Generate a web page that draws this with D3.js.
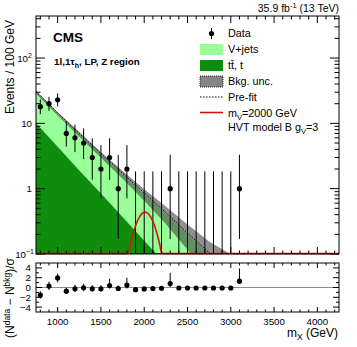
<!DOCTYPE html>
<html lang="en">
<head>
<meta charset="utf-8">
<title>CMS 1l,1tau_h LP Z region</title>
<script src="https://d3js.org/d3.v7.min.js"></script>
<style>
  body { margin: 0; background: #ffffff; }
  svg { display: block; font-family: "Liberation Sans", Arial, Helvetica, sans-serif; }
  .frame { fill: none; stroke: #000; stroke-width: 1px; }
  .tick line { stroke: #000; }
  .ticklab { font-size: 9.7px; fill: #000; }
  .legtext { font-size: 10.8px; fill: #000; }
  .title { font-size: 12px; fill: #000; }
</style>
</head>
<body>
<script>
// observed data, 100 GeV bins (bin centres)
var dataMass   = [800, 900, 1000, 1100, 1200, 1300, 1400, 1500, 1600, 1700, 1800, 1900,
                  2000, 2100, 2200, 2300, 2400, 2500, 2600, 2700, 2800, 2900, 3000, 3100];
var dataCounts = [18, 20, 23, 7, 6, 5, 3, 2, 3, 1, 2, 0, 0, 0, 0, 1, 0, 0, 0, 0, 0, 0, 0, 1];
var dataErrLo  = [4.2, 4.4, 4.8, 2.58, 2.38, 2.16, 1.63, 1.29, 1.63, 0.83, 1.29, 0, 0, 0, 0, 0.83,
                  0, 0, 0, 0, 0, 0, 0, 0.83];
var dataErrHi  = [5.3, 5.5, 5.8, 3.77, 3.58, 3.38, 2.92, 2.64, 2.92, 2.30, 2.64, 1.84, 1.84, 1.84,
                  1.84, 2.30, 1.84, 1.84, 1.84, 1.84, 1.84, 1.84, 1.84, 2.30];

// pulls in the lower panel
var pullVals  = [-1.55, 0.3, 1.95, -0.75, -0.25, -0.05, -0.25, -0.25, 0.4, -0.2, 0.5, -0.45,
                 -0.3, -0.2, -0.15, 0.8, -0.1, -0.1, -0.1, -0.1, -0.1, -0.1, -0.1, 1.3];
var pullErrLo = [0.7, 0.8, 0.9, 0.6, 0.7, 0.7, 0.6, 0.6, 0.6, 0.5, 0.7, 0.3, 0.3, 0.3, 0.3, 0.7,
                 0.25, 0.25, 0.25, 0.25, 0.25, 0.25, 0.25, 0.6];
var pullErrHi = [0.8, 0.9, 0.9, 0.7, 0.8, 0.8, 0.7, 0.7, 1.4, 0.6, 1.5, 0.4, 0.4, 0.4, 0.4, 2.2,
                 0.3, 0.3, 0.3, 0.3, 0.3, 0.3, 0.3, 2.6];

// background shapes, sampled along m_X
var bkgMass  = [750, 1000, 1250, 1500, 1750, 2000, 2250, 2500, 2750, 3000, 3250];
var ttbar    = [10, 4.4, 1.9, 0.84, 0.37, 0.16, 0.07, 0.031, 0.014, 0.006, 0.003];
var vjets    = [20, 9.6, 4.9, 2.46, 1.28, 0.66, 0.34, 0.169, 0.086, 0.049, 0.022];
var bkgUnc   = [0.05, 0.06, 0.08, 0.1, 0.14, 0.2, 0.3, 0.42, 0.55, 0.8, 0.9];
var preFit   = [31, 14.5, 7.0, 3.45, 1.72, 0.86, 0.43, 0.21, 0.105, 0.057, 0.026];

// HVT model B signal, m_V = 2000 GeV
var sigMass = [750, 1800, 1825, 1850, 1875, 1900, 1925, 1950, 1975, 2000, 2025, 2050, 2075,
               2100, 2125, 2150, 2175, 2200, 2225, 4250];
var sigVals = [0.001, 0.074, 0.11, 0.155, 0.208, 0.265, 0.322, 0.372, 0.41, 0.428, 0.426, 0.403,
               0.363, 0.311, 0.254, 0.197, 0.145, 0.102, 0.068, 0.001];

var W = 357, H = 347;
var L = 36, R = 339, T = 16, B = 254, RT = 263, RB = 312;

var svg = d3.select("body").append("svg").attr("width", W).attr("height", H);

var x = d3.scaleLinear().domain([750, 4250]).range([L, R]);
var y = d3.scaleLog().domain([0.1, 440]).range([B, T]);
var ySig = d3.scaleLog().domain([0.1, 440]).range([B, T]).clamp(true);
var yr = d3.scaleLinear().domain([-5, 5]).range([RB, RT]);

svg.append("clipPath").attr("id", "clipMain")
  .append("rect").attr("x", L).attr("y", T).attr("width", R - L).attr("height", B - T);

var plot = svg.append("g").attr("clip-path", "url(#clipMain)");

var bkg = bkgMass.map(function(m, i) {
  return { m: m, tt: ttbar[i], tot: ttbar[i] + vjets[i], unc: bkgUnc[i], pre: preFit[i] };
});

// stacked backgrounds
plot.append("path")
  .datum(bkg)
  .attr("fill", "#99ff99")
  .attr("d", d3.area().x(d => x(d.m)).y0(B).y1(d => y(d.tot)));

plot.append("path")
  .datum(bkg)
  .attr("fill", "#0e8c0e")
  .attr("d", d3.area().x(d => x(d.m)).y0(B).y1(d => y(d.tt)));

// uncertainty band
plot.append("path")
  .datum(bkg)
  .attr("fill", "#333333")
  .attr("fill-opacity", 0.55)
  .attr("d", d3.area().x(d => x(d.m))
    .y0(d => y(Math.max(d.tot * (1 - d.unc), 1e-4)))
    .y1(d => y(d.tot * (1 + d.unc))));

// pre-fit
plot.append("path")
  .datum(bkg)
  .attr("fill", "none")
  .attr("stroke", "#000")
  .attr("stroke-width", 1)
  .attr("stroke-dasharray", "1.5,1.5")
  .attr("d", d3.line().x(d => x(d.m)).y(d => y(d.pre)));

// signal
svg.append("path")
  .datum(sigMass.map((m, i) => ({ m: m, v: sigVals[i] })))
  .attr("fill", "none")
  .attr("stroke", "#dd1111")
  .attr("stroke-width", 1.6)
  .attr("d", d3.line().x(d => x(d.m)).y(d => ySig(d.v) - 0.5));

// data
var pts = dataMass.map(function(m, i) {
  return { m: m, n: dataCounts[i], lo: dataErrLo[i], hi: dataErrHi[i],
           p: pullVals[i], plo: pullErrLo[i], phi: pullErrHi[i] };
});

plot.selectAll(".ebar").data(pts).enter().append("line")
  .attr("x1", d => x(d.m)).attr("x2", d => x(d.m))
  .attr("y1", d => d.n - d.lo > 0 ? y(d.n - d.lo) : B + 2)
  .attr("y2", d => y(d.n + d.hi))
  .attr("stroke", "#000").attr("stroke-width", 1);

plot.selectAll(".dot").data(pts.filter(d => d.n > 0)).enter().append("circle")
  .attr("cx", d => x(d.m)).attr("cy", d => y(d.n)).attr("r", 2.6).attr("fill", "#000");

// frame + ticks, main panel
function xTicks(g, top, bottom, big, small) {
  d3.range(800, 4250, 100).forEach(function(m) {
    var len = m % 500 === 0 ? big : small;
    g.append("line").attr("x1", x(m)).attr("x2", x(m)).attr("y1", top).attr("y2", top + len)
      .attr("stroke", "#000");
    g.append("line").attr("x1", x(m)).attr("x2", x(m)).attr("y1", bottom).attr("y2", bottom - len)
      .attr("stroke", "#000");
  });
}

var axes = svg.append("g");
xTicks(axes, T, B, 7, 3.5);

var yMajor = [0.1, 1, 10, 100];
var yMinor = [];
[0.1, 1, 10, 100].forEach(function(dec) {
  d3.range(2, 10).forEach(function(k) { if (dec * k < 440) yMinor.push(dec * k); });
});
yMajor.forEach(function(v) {
  axes.append("line").attr("x1", L).attr("x2", L + 9).attr("y1", y(v)).attr("y2", y(v)).attr("stroke", "#000");
  axes.append("line").attr("x1", R).attr("x2", R - 9).attr("y1", y(v)).attr("y2", y(v)).attr("stroke", "#000");
});
yMinor.forEach(function(v) {
  axes.append("line").attr("x1", L).attr("x2", L + 4.5).attr("y1", y(v)).attr("y2", y(v)).attr("stroke", "#000");
  axes.append("line").attr("x1", R).attr("x2", R - 4.5).attr("y1", y(v)).attr("y2", y(v)).attr("stroke", "#000");
});

// signal running along the axis floor
axes.append("line").attr("x1", L).attr("x2", R).attr("y1", B - 0.5).attr("y2", B - 0.5)
  .attr("stroke", "#b01010").attr("stroke-width", 1.2);

axes.append("rect").attr("class", "frame").attr("x", L).attr("y", T).attr("width", R - L).attr("height", B - T);

// y tick labels (main)
var yLabels = [{ v: 100, b: "10", s: "2" }, { v: 10, b: "10", s: "" }, { v: 1, b: "1", s: "" }, { v: 0.1, b: "10", s: "\u22121" }];
yLabels.forEach(function(d) {
  var t = axes.append("text").attr("class", "ticklab").attr("text-anchor", "end")
    .attr("x", d.s ? 32 - (d.s.length > 1 ? 6 : 4) : 32).attr("y", y(d.v) + 3.5).text(d.b);
  if (d.s) {
    axes.append("text").attr("class", "ticklab").attr("x", 32 - (d.s.length > 1 ? 6 : 4))
      .attr("y", y(d.v) - 0.5).style("font-size", "7px").text(d.s);
  }
});

// ratio panel
var rat = svg.append("g");
rat.append("line").attr("x1", L).attr("x2", R).attr("y1", yr(0)).attr("y2", yr(0))
  .attr("stroke", "#8c8c8c").attr("stroke-width", 1.2);

rat.selectAll(".rbar").data(pts).enter().append("line")
  .attr("x1", d => x(d.m)).attr("x2", d => x(d.m))
  .attr("y1", d => yr(d.p - d.plo)).attr("y2", d => yr(d.p + d.phi))
  .attr("stroke", "#000");
rat.selectAll(".rdot").data(pts).enter().append("circle")
  .attr("cx", d => x(d.m)).attr("cy", d => yr(d.p)).attr("r", 2.6).attr("fill", "#000");

xTicks(rat, RT, RB, 5, 2.5);
d3.range(-4, 5, 1).forEach(function(v) {
  var len = v % 2 === 0 ? 6 : 3;
  rat.append("line").attr("x1", L).attr("x2", L + len).attr("y1", yr(v)).attr("y2", yr(v)).attr("stroke", "#000");
  rat.append("line").attr("x1", R).attr("x2", R - len).attr("y1", yr(v)).attr("y2", yr(v)).attr("stroke", "#000");
});
rat.append("rect").attr("class", "frame").attr("x", L).attr("y", RT).attr("width", R - L).attr("height", RB - RT);

[-4, -2, 0, 2, 4].forEach(function(v) {
  rat.append("text").attr("class", "ticklab").attr("text-anchor", "end")
    .attr("x", 31).attr("y", yr(v) + 3.5).text(v < 0 ? "\u2212" + (-v) : v);
});
[1000, 1500, 2000, 2500, 3000, 3500, 4000].forEach(function(m) {
  rat.append("text").attr("class", "ticklab").attr("text-anchor", "middle")
    .attr("x", x(m)).attr("y", 325).text(m);
});

// axis titles
var xt = svg.append("text").attr("class", "title").attr("text-anchor", "end").attr("x", 338).attr("y", 337);
xt.append("tspan").text("m");
xt.append("tspan").attr("dy", 3).style("font-size", "8.5px").text("X");
xt.append("tspan").attr("dy", -3).text(" (GeV)");

svg.append("text").attr("class", "title").attr("text-anchor", "end")
  .attr("transform", "translate(14,20) rotate(-90)").text("Events / 100 GeV");

var rt = svg.append("text").attr("class", "title").attr("text-anchor", "middle")
  .attr("transform", "translate(14,298) rotate(-90)");
rt.append("tspan").text("(N");
rt.append("tspan").attr("dy", -4).style("font-size", "8.5px").text("data");
rt.append("tspan").attr("dy", 4).text(" \u2212 N");
rt.append("tspan").attr("dy", -4).style("font-size", "8.5px").text("bkg");
rt.append("tspan").attr("dy", 4).text(")/\u03c3");

// header texts
var lumi = svg.append("text").attr("text-anchor", "end").attr("x", 339).attr("y", 12).style("font-size", "10.5px");
lumi.append("tspan").text("35.9 fb");
lumi.append("tspan").attr("dy", -4).style("font-size", "7.5px").text("-1");
lumi.append("tspan").attr("dy", 4).text(" (13 TeV)");

svg.append("text").attr("x", 53).attr("y", 42).style("font-size", "13.5px").style("font-weight", "bold").text("CMS");

var reg = svg.append("text").attr("x", 54).attr("y", 65).style("font-size", "9.8px").style("font-weight", "bold");
reg.append("tspan").text("1l,1\u03c4");
reg.append("tspan").attr("dy", 2.5).style("font-size", "7px").text("h");
reg.append("tspan").attr("dy", -2.5).text(", LP, Z region");

// legend
var lg = svg.append("g");
var lx = 228;
lg.append("line").attr("x1", 211.5).attr("x2", 211.5).attr("y1", 28).attr("y2", 39).attr("stroke", "#000");
lg.append("circle").attr("cx", 211.5).attr("cy", 33.5).attr("r", 2.6).attr("fill", "#000");
lg.append("text").attr("class", "legtext").attr("x", lx).attr("y", 37).text("Data");

lg.append("rect").attr("x", 200).attr("y", 44).attr("width", 23).attr("height", 11).attr("fill", "#99ff99");
lg.append("text").attr("class", "legtext").attr("x", lx).attr("y", 53).text("V+jets");

lg.append("rect").attr("x", 200).attr("y", 60).attr("width", 23).attr("height", 11).attr("fill", "#0e8c0e");
lg.append("text").attr("class", "legtext").attr("x", lx).attr("y", 69).text("tt\u0304, t");

lg.append("rect").attr("x", 200).attr("y", 76).attr("width", 23).attr("height", 11)
  .attr("fill", "#333333").attr("fill-opacity", 0.6)
  .attr("stroke", "#000").attr("stroke-width", 0.8).attr("stroke-dasharray", "1,1");
lg.append("text").attr("class", "legtext").attr("x", lx).attr("y", 85).text("Bkg. unc.");

lg.append("line").attr("x1", 200).attr("x2", 223).attr("y1", 97).attr("y2", 97)
  .attr("stroke", "#000").attr("stroke-dasharray", "1.5,1.5");
lg.append("text").attr("class", "legtext").attr("x", lx).attr("y", 101).text("Pre-fit");

lg.append("line").attr("x1", 200).attr("x2", 223).attr("y1", 112.5).attr("y2", 112.5)
  .attr("stroke", "#dd1111").attr("stroke-width", 1.6);
var sl = lg.append("text").attr("class", "legtext").attr("x", lx).attr("y", 117);
sl.append("tspan").text("m");
sl.append("tspan").attr("dy", 3).style("font-size", "7.5px").text("V");
sl.append("tspan").attr("dy", -3).text("=2000 GeV");

var hv = lg.append("text").attr("class", "legtext").attr("x", lx).attr("y", 131);
hv.append("tspan").text("HVT model B g");
hv.append("tspan").attr("dy", 3).style("font-size", "7.5px").text("V");
hv.append("tspan").attr("dy", -3).text("=3");
</script>
</body>
</html>
